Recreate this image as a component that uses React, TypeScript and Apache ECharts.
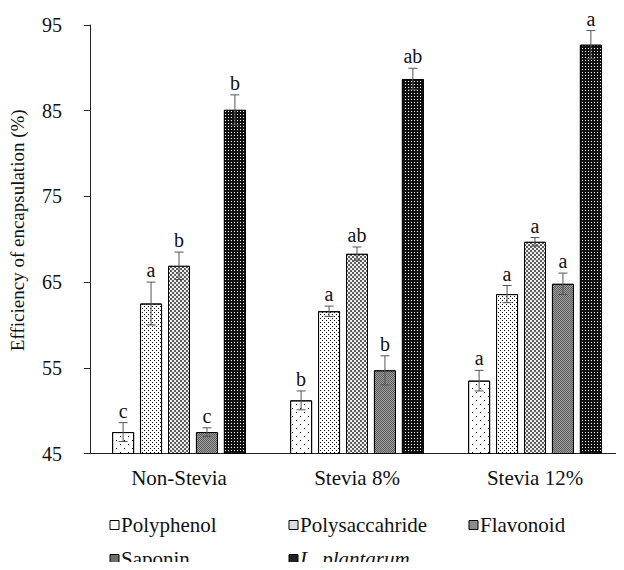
import React, { useEffect, useRef } from "react";
import * as echarts from "echarts";

const categories = ["Non-Stevia", "Stevia 8%", "Stevia 12%"];
const seriesNames = ["Polyphenol", "Polysaccahride", "Flavonoid", "Saponin", "L. plantarum"];

const polyphenol = [47.5, 51.2, 53.5];
const polysaccharide = [62.5, 61.6, 63.6];
const flavonoid = [66.9, 68.3, 69.7];
const saponin = [47.5, 54.7, 64.8];
const plantarum = [85.1, 88.7, 92.7];

const polyphenolErr = [1.1, 1.1, 1.2];
const polysaccharideErr = [2.5, 0.6, 1.0];
const flavonoidErr = [1.6, 0.8, 0.5];
const saponinErr = [0.5, 1.7, 1.25];
const plantarumErr = [1.75, 1.25, 1.65];

const polyphenolLetters = ["c", "b", "a"];
const polysaccharideLetters = ["a", "a", "a"];
const flavonoidLetters = ["b", "ab", "a"];
const saponinLetters = ["c", "b", "a"];
const plantarumLetters = ["b", "ab", "a"];

const yTicks = [45, 55, 65, 75, 85, 95];

const values = [polyphenol, polysaccharide, flavonoid, saponin, plantarum];
const errs = [polyphenolErr, polysaccharideErr, flavonoidErr, saponinErr, plantarumErr];
const letters = [polyphenolLetters, polysaccharideLetters, flavonoidLetters, saponinLetters, plantarumLetters];

const FONT = '"Liberation Serif", "Times New Roman", serif';
const BAR_W = 22;
const BAR_GAP = 0.27;

const fills = ["#ffffff", "#ffffff", "#5e5e5e", "#5a5a5a", "#111111"];
const iconFills = ["#ffffff", "#dcdcdc", "#8c8c8c", "#6e6e6e", "#222222"];
const decals: any[] = [
  { symbol: "rect", symbolSize: 1, color: "#000", dashArrayX: [[1, 7], [0, 4, 1, 3]], dashArrayY: [1, 3], rotation: 0 },
  { symbol: "rect", symbolSize: 1, color: "#000", dashArrayX: [[1, 3], [0, 2, 1, 1]], dashArrayY: [1, 1], rotation: 0 },
  { symbol: "rect", symbolSize: 1, color: "#eeeeee", dashArrayX: [[1.5, 1.5], [0, 1.5, 1.5, 0]], dashArrayY: [1.5, 0], rotation: 0 },
  { symbol: "rect", symbolSize: 1, color: "#a0a0a0", dashArrayX: [[1, 1], [0, 1, 1, 0]], dashArrayY: [1, 0], rotation: 0 },
  { symbol: "rect", symbolSize: 1, color: "#ffffff", dashArrayX: [1, 2], dashArrayY: [1, 2], rotation: 0 },
];

export default function App() {
  const ref = useRef<HTMLDivElement>(null);
  useEffect(() => {
    if (!ref.current) return;
    const chart = echarts.init(ref.current, null, { renderer: "svg" });

    const barSeries = seriesNames.map((name, i) => ({
      name,
      type: "bar",
      data: values[i],
      barWidth: BAR_W,
      barGap: BAR_GAP * 100 + "%",
      itemStyle: { color: fills[i], borderColor: "#000", borderWidth: 1, decal: decals[i] },
      emphasis: { disabled: true },
      z: 2,
    }));

    const errData: any[] = [];
    values.forEach((vals, si) => {
      vals.forEach((v, ci) => {
        errData.push([ci, v, errs[si][ci], si, letters[si][ci]]);
      });
    });

    const step = BAR_W * (1 + BAR_GAP);

    const errSeries = {
      type: "custom",
      name: "err",
      data: errData,
      z: 5,
      silent: true,
      renderItem: (params: any, api: any) => {
        const ci = api.value(0);
        const v = api.value(1);
        const e = api.value(2);
        const si = api.value(3);
        const letter = errData[params.dataIndex][4];
        const top = api.coord([ci, v + e]);
        const bot = api.coord([ci, v - e]);
        const x = top[0] + (si - 2) * step;
        const cap = 4.5;
        const ls = { stroke: "#555", lineWidth: 1 };
        return {
          type: "group",
          children: [
            { type: "line", shape: { x1: x, y1: top[1], x2: x, y2: bot[1] }, style: ls },
            { type: "line", shape: { x1: x - cap, y1: top[1], x2: x + cap, y2: top[1] }, style: ls },
            { type: "line", shape: { x1: x - cap, y1: bot[1], x2: x + cap, y2: bot[1] }, style: ls },
            {
              type: "text",
              x,
              y: top[1] - 2,
              style: {
                text: letter,
                fill: "#111",
                font: `20px ${FONT}`,
                align: "center",
                verticalAlign: "bottom",
              },
            },
          ],
        };
      },
    };

    // legend layout: icon left, row centre y
    const legendX = [110, 289, 469, 110, 289];
    const legendY = [525, 525, 525, 559, 559];

    const legendGraphics: any[] = [];
    seriesNames.forEach((n, i) => {
      legendGraphics.push({
        type: "rect",
        shape: { x: legendX[i], y: legendY[i] - 4.5, width: 9, height: 9 },
        style: { fill: iconFills[i], stroke: "#000", lineWidth: 1 },
        silent: true,
      });
      legendGraphics.push({
        type: "text",
        x: legendX[i] + 11,
        y: legendY[i],
        style: {
          text: n,
          font: `${i === 4 ? "italic " : ""}21px ${FONT}`,
          fill: "#111",
          align: "left",
          verticalAlign: "middle",
        },
        silent: true,
      });
    });

    chart.setOption({
      animation: false,
      backgroundColor: "#fff",
      textStyle: { fontFamily: FONT },
      grid: { left: 82, top: 25, width: 545, height: 428.5, containLabel: false },
      graphic: legendGraphics,
      xAxis: {
        type: "category",
        data: categories,
        axisLine: { lineStyle: { color: "#222", width: 1 } },
        axisTick: { show: false },
        axisLabel: { fontFamily: FONT, fontSize: 21, color: "#111", margin: 14 },
      },
      yAxis: {
        type: "value",
        min: yTicks[0],
        max: yTicks[yTicks.length - 1],
        interval: 10,
        name: "Efficiency of encapsulation (%)",
        nameLocation: "middle",
        nameGap: 63,
        nameTextStyle: { fontFamily: FONT, fontSize: 19, color: "#111", padding: [0, 0, 0, 18] },
        axisLine: { show: true, lineStyle: { color: "#222", width: 1 } },
        axisTick: { show: true, length: 6, lineStyle: { color: "#222" } },
        splitLine: { show: false },
        axisLabel: { fontFamily: FONT, fontSize: 20, color: "#111", margin: 28 },
      },
      series: [...barSeries, errSeries],
    });
    return () => chart.dispose();
  }, []);
  return <div ref={ref} style={{ width: 624, height: 570, margin: -8 }} />;
}
